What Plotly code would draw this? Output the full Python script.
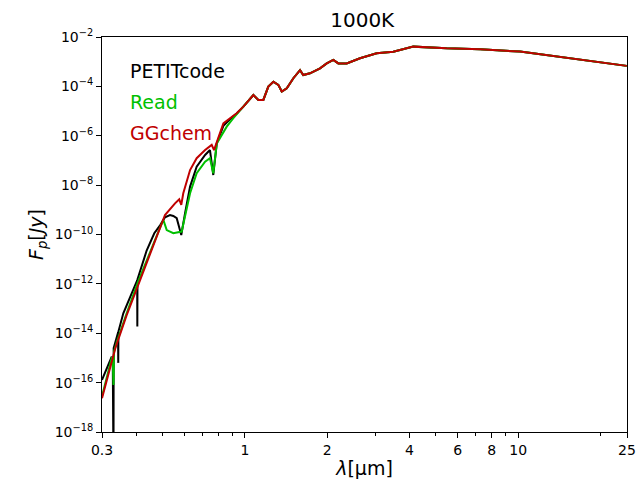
import numpy as np
import plotly.graph_objects as go

# wavelengths in micron, fluxes stored as log10(F / Jy)
# part shared by all three models (they sit on top of each other here)
lam_common = [0.987, 1.074, 1.120, 1.168, 1.218, 1.271, 1.325, 1.364, 1.423, 1.504,
              1.591, 1.635, 1.730, 1.883, 1.992, 2.106, 2.197, 2.357, 2.637, 3.035,
              3.491, 4.13, 5.47, 7.25, 10.15, 12.72, 16.83, 24.95]
logf_common = [-4.82, -4.35, -4.55, -4.55, -4.01, -3.81, -3.94, -4.21, -4.08, -3.67,
               -3.34, -3.54, -3.47, -3.27, -3.07, -2.93, -3.07, -3.07, -2.86, -2.66,
               -2.60, -2.39, -2.46, -2.50, -2.59, -2.73, -2.93, -3.17]

# short-wavelength parts
lam_petit = [0.300, 0.315, 0.3256, 0.3285, 0.3295, 0.3305, 0.331, 0.337, 0.3435, 0.344,
             0.3445, 0.359, 0.3906, 0.4035, 0.404, 0.4045, 0.437, 0.466, 0.490, 0.503,
             0.510, 0.532, 0.547, 0.563, 0.585, 0.604, 0.630, 0.666, 0.715, 0.745,
             0.766, 0.789, 0.834, 0.882, 0.933]
logf_petit = [-15.89, -15.30, -14.95, -15.10, -19.5, -19.5, -14.60, -14.27, -13.97, -15.20,
              -13.93, -13.19, -12.25, -11.86, -13.73, -11.82, -10.65, -9.95, -9.62, -9.40,
              -9.30, -9.21, -9.25, -9.34, -10.02, -9.14, -8.06, -7.25, -6.78, -6.58,
              -7.59, -6.31, -5.60, -5.33, -5.10]

lam_read = [0.300, 0.3256, 0.3285, 0.3295, 0.3305, 0.332, 0.340, 0.369, 0.407, 0.476,
            0.503, 0.5175, 0.547, 0.587, 0.604, 0.630, 0.666, 0.715, 0.745, 0.766,
            0.789, 0.858, 0.907]
logf_read = [-16.55, -15.00, -15.00, -16.10, -16.10, -14.75, -14.35, -13.20, -11.90, -10.05,
             -9.41, -9.82, -9.95, -9.88, -9.28, -8.33, -7.52, -7.05, -6.91, -7.52,
             -6.31, -5.63, -5.29]

lam_ggchem = [0.300, 0.337, 0.369, 0.413, 0.476, 0.510, 0.555, 0.575, 0.585, 0.595,
              0.630, 0.666, 0.715, 0.756, 0.771, 0.789, 0.834, 0.882, 0.933]
logf_ggchem = [-16.63, -14.54, -13.28, -11.84, -10.09, -9.21, -8.74, -8.57, -8.80, -8.33,
               -7.39, -6.91, -6.58, -6.37, -6.58, -6.24, -5.50, -5.29, -5.09]

names = ["PETITcode", "Read", "GGchem"]
colors = ["#000000", "#00c000", "#c00000"]

x_ticks = [0.3, 1, 2, 4, 6, 8, 10, 25]
x_minor = [0.4, 0.5, 0.6, 0.7, 0.8, 0.9, 3, 5, 7, 9, 20]
y_exps = [-18, -16, -14, -12, -10, -8, -6, -4, -2]

series = [(lam_petit, logf_petit), (lam_read, logf_read), (lam_ggchem, logf_ggchem)]

fig = go.Figure()
for (lam, logf), name, col in zip(series, names, colors):
    x = lam + lam_common
    y = 10.0 ** np.array(logf + logf_common)
    fig.add_trace(go.Scatter(x=x, y=y, mode="lines", name=name,
                             line=dict(color=col, width=2), showlegend=False))

# legend as coloured text, no handles
for i, (name, col) in enumerate(zip(names, colors)):
    fig.add_annotation(x=0.05, y=0.914 - i * 0.0785, xref="paper", yref="paper",
                       text=name, showarrow=False, xanchor="left", yanchor="middle",
                       font=dict(size=19, color=col))

fig.update_xaxes(type="log", range=[np.log10(0.3), np.log10(25)], automargin=False,
                 tickvals=x_ticks, ticktext=[str(t) for t in x_ticks],
                 ticks="outside", ticklen=5, tickwidth=1, tickcolor="black",
                 minor=dict(tickvals=x_minor, ticks="outside", ticklen=3, tickcolor="black"),
                 showline=True, linecolor="black", linewidth=1, mirror=True,
                 showgrid=False, zeroline=False,
                 title=dict(text="<i>λ</i>[μm]", font=dict(size=19), standoff=4))
fig.update_yaxes(type="log", range=[-18, -2], automargin=False,
                 tickvals=[10.0 ** e for e in y_exps],
                 ticktext=["10<sup>−%d</sup>" % -e for e in y_exps],
                 ticks="outside", ticklen=5, tickwidth=1, tickcolor="black",
                 showline=True, linecolor="black", linewidth=1, mirror=True,
                 showgrid=False, zeroline=False,
                 title=dict(text="<i>F<sub>p</sub></i>[<i>Jy</i>]", font=dict(size=19), standoff=6))

fig.update_layout(width=640, height=480,
                  margin=dict(l=102, r=13, t=37, b=48),
                  paper_bgcolor="white", plot_bgcolor="white",
                  font=dict(family="DejaVu Sans", size=14, color="black"),
                  title=dict(text="1000K", x=0.566, xanchor="center", y=0.958,
                             yanchor="middle", font=dict(size=20)))

# drop the browser's default page margin so the figure fills the window
fig.write_html("out.html", config={"displayModeBar": False},
               post_script="document.body.style.margin='0';")
